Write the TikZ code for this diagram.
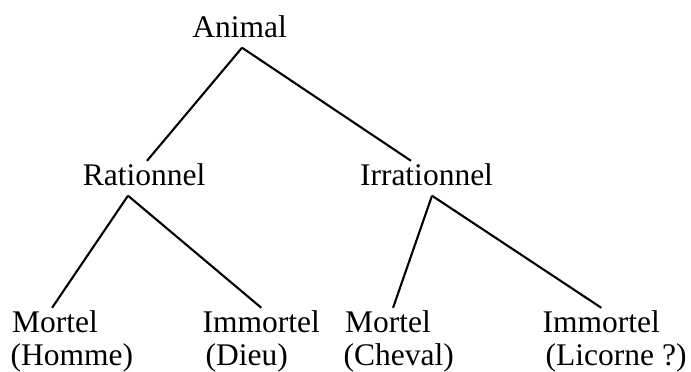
\documentclass[tikz,border=0pt]{standalone}
\usepackage{fontspec}
\setmainfont{Liberation Serif}
\tikzset{
  word/.style={inner xsep=0pt, inner ysep=3pt, text height=21pt, text depth=7.5pt,
    font=\fontsize{31.5}{36}\selectfont},
  branch/.style={draw, line width=2.1pt, -}
}
\begin{document}
\begin{tikzpicture}[x=1pt, y=-1pt]
\useasboundingbox (0,0) rectangle (691,372);
\node[word, anchor=base] (animal) at (239.5,37) {Animal};
\node[word, anchor=base] (rat) at (144,185) {Rationnel};
\node[word, anchor=base] (irr) at (426.5,185) {Irrationnel};
\node[word, anchor=base west] (mort1) at (12,332) {Mortel};
\node[word, anchor=base west] (homme) at (10.5,365) {(Homme)};
\node[word, anchor=base west] (immort1) at (202.5,332) {Immortel};
\node[word, anchor=base west] (dieu) at (205.5,365) {(Dieu)};
\node[word, anchor=base west] (mort2) at (345,332) {Mortel};
\node[word, anchor=base west] (cheval) at (343.5,365) {(Cheval)};
\node[word, anchor=base west] (immort2) at (542.5,332) {Immortel};
\node[word, anchor=base west] (licorne) at (545.5,365) {(Licorne ?)};
\path[branch] ([xshift=2.5pt]animal.south) -- ([xshift=3pt]rat.north);
\path[branch] ([xshift=2.5pt]animal.south) -- ([xshift=-15.5pt]irr.north);
\path[branch] ([xshift=-16pt]rat.south) -- ([xshift=-3pt]mort1.north);
\path[branch] ([xshift=-16pt]rat.south) -- (immort1.north);
\path[branch] ([xshift=5.5pt]irr.south) -- ([xshift=5pt]mort2.north);
\path[branch] ([xshift=5.5pt]irr.south) -- (immort2.north);
\end{tikzpicture}
\end{document}
